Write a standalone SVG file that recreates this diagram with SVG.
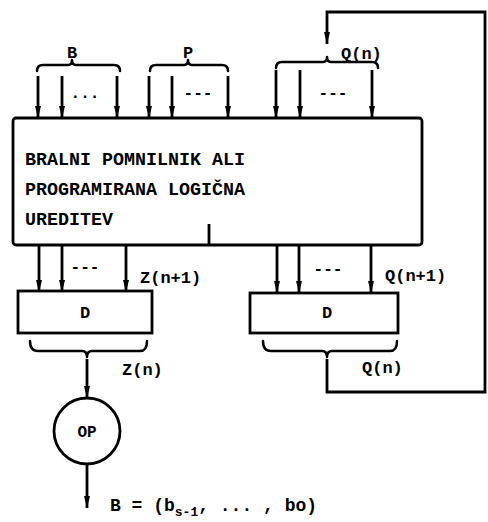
<svg xmlns="http://www.w3.org/2000/svg" width="488" height="522" viewBox="0 0 488 522">
<defs>
<style>
.ln{stroke:#000;stroke-width:2.8;fill:none}
.br{stroke:#000;stroke-width:2.5;fill:none;stroke-linejoin:round;stroke-linecap:round}
.bx{stroke:#000;stroke-width:2.8;fill:#fff}
.t{font-family:"Liberation Mono","DejaVu Sans Mono",monospace;font-weight:bold;fill:#000}
.lab{font-size:17px}
.main{font-size:18px}
.dots{font-size:16px}
</style>
<marker id="ad" viewBox="0 0 12 8" refX="12" refY="4" markerWidth="12" markerHeight="8" markerUnits="userSpaceOnUse" orient="auto">
<path d="M0,1 L12,4 L0,7 Z" fill="#000"/>
</marker>
</defs>

<g id="connectors">
<path class="ln" d="M38,76 V118" marker-end="url(#ad)"/>
<path class="ln" d="M62,76 V118" marker-end="url(#ad)"/>
<path class="ln" d="M117,76 V118" marker-end="url(#ad)"/>
<path class="ln" d="M149,76 V118" marker-end="url(#ad)"/>
<path class="ln" d="M172,76 V118" marker-end="url(#ad)"/>
<path class="ln" d="M228,76 V118" marker-end="url(#ad)"/>
<path class="ln" d="M276,70 V118" marker-end="url(#ad)"/>
<path class="ln" d="M300,70 V118" marker-end="url(#ad)"/>
<path class="ln" d="M372,70 V118" marker-end="url(#ad)"/>
<path class="ln" d="M39,245 V292" marker-end="url(#ad)"/>
<path class="ln" d="M62,245 V292" marker-end="url(#ad)"/>
<path class="ln" d="M126,245 V292" marker-end="url(#ad)"/>
<path class="ln" d="M277,245 V293" marker-end="url(#ad)"/>
<path class="ln" d="M299,245 V293" marker-end="url(#ad)"/>
<path class="ln" d="M371,245 V293" marker-end="url(#ad)"/>
<path class="ln" d="M327,359 V392 H485 V12 H327 V44" marker-end="url(#ad)"/>
<path class="ln" d="M87,359 V398" marker-end="url(#ad)"/>
<path class="ln" d="M87,464 V508" marker-end="url(#ad)"/>

<path class="br" d="M37,71 Q37,65 43,65 L68,65 Q72,65 72,60 Q72,65 76,65 L114,65 Q120,65 120,71"/>
<path class="br" d="M150,71 Q150,65 156,65 L184,65 Q188,65 188,60 Q188,65 192,65 L222,65 Q228,65 228,71"/>
<path class="br" d="M276,68 Q276,62 282,62 L323,62 Q327,62 327,57 Q327,62 331,62 L372,62 Q378,62 378,68"/>
<path class="br" d="M30,341 Q30,351 38,351 L82,351 Q87,351 87,357 Q87,351 92,351 L140,351 Q147,351 147,341"/>
<path class="br" d="M263,341 Q263,351 271,351 L322,351 Q327,351 327,357 Q327,351 332,351 L390,351 Q397,351 397,341"/>
</g>

<g id="main-block">
<rect class="bx" x="13" y="118" width="409" height="127" rx="3"/>
<line class="ln" x1="209" y1="224" x2="209" y2="245"/>
<text class="t main" x="25" y="165" textLength="220" lengthAdjust="spacingAndGlyphs">BRALNI POMNILNIK ALI</text>
<text class="t main" x="25" y="195" textLength="220" lengthAdjust="spacingAndGlyphs">PROGRAMIRANA LOGIČNA</text>
<text class="t main" x="25" y="225" textLength="88" lengthAdjust="spacingAndGlyphs">UREDITEV</text>
</g>

<g id="label-B"><text class="t lab" x="72" y="58" text-anchor="middle">B</text>
<text class="t dots" x="85" y="98" text-anchor="middle">...</text></g>
<g id="label-P"><text class="t lab" x="188" y="58" text-anchor="middle">P</text>
<text class="t dots" x="198" y="98" text-anchor="middle">---</text></g>
<g id="label-Qn-top"><text class="t lab" x="341" y="59">Q(n)</text>
<text class="t dots" x="333" y="98" text-anchor="middle">---</text></g>

<g id="D-left">
<rect class="bx" x="18" y="291" width="134" height="42"/>
<text class="t lab" x="85" y="318" text-anchor="middle">D</text>
<text class="t dots" x="85" y="272" text-anchor="middle">---</text>
<text class="t lab" x="140" y="283">Z(n+1)</text>
<text class="t lab" x="122" y="375">Z(n)</text>
</g>

<g id="D-right">
<rect class="bx" x="250" y="293" width="148" height="40"/>
<text class="t lab" x="327" y="318" text-anchor="middle">D</text>
<text class="t dots" x="328" y="274" text-anchor="middle">---</text>
<text class="t lab" x="385" y="281">Q(n+1)</text>
<text class="t lab" x="362" y="373">Q(n)</text>
</g>

<g id="OP">
<circle cx="87" cy="431" r="33" stroke="#000" stroke-width="2.8" fill="#fff"/>
<text class="t" x="87" y="437" font-size="16" text-anchor="middle">OP</text>
</g>

<g id="output-label">
<text class="t main" x="110" y="511">B = (b<tspan font-size="13" dy="5">s-1</tspan><tspan dy="-5">, ... , bo)</tspan></text>
</g>
</svg>
